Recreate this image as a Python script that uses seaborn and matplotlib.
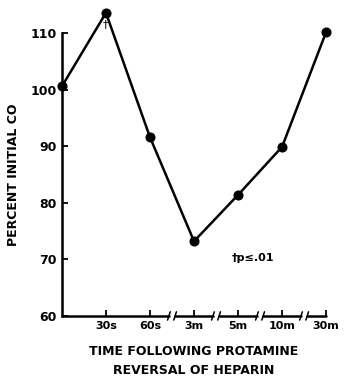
import pandas as pd
import matplotlib.pyplot as plt
import seaborn as sns

# datos
time_labels = ["0", "30s", "60s", "3m", "5m", "10m", "30m"]
percent_co = [100.6, 113.6, 91.6, 73.2, 81.4, 89.9, 110.2]
y_ticks = [60, 70, 80, 90, 100, 110]

df = pd.DataFrame({"pos": range(len(time_labels)), "co": percent_co})

sns.set_style("ticks")
plt.rcParams["font.family"] = ["DejaVu Sans"]
plt.rcParams["text.color"] = "black"
plt.rcParams["axes.labelcolor"] = "black"

fig = plt.figure(figsize=(3.44, 3.77), dpi=100)
ax = fig.add_axes([0.180, 0.162, 0.768, 0.750])

sns.lineplot(x="pos", y="co", data=df, color="black", marker="o", markersize=6.5,
             markeredgecolor="black", linewidth=1.8, ax=ax)
for ln in ax.lines:
    ln.set_clip_on(False)

ax.set_xlim(0, 6)
ax.set_ylim(60, 110)
ax.set_yticks(y_ticks)
ax.set_yticklabels([str(v) for v in y_ticks], fontsize=9, fontweight="bold")
ax.set_xticks(range(1, 7))
ax.set_xticklabels(time_labels[1:], fontsize=8, fontweight="bold")
ax.tick_params(direction="in", length=4, width=1.3, colors="black")

sns.despine(ax=ax)
ax.spines["left"].set_linewidth(1.8)
ax.spines["left"].set_color("black")
ax.spines["bottom"].set_visible(False)

# eje x con cortes
breaks = [2.5, 3.5, 4.5, 5.5]
segs = [0] + breaks + [6]
gap = 0.07
for i in range(len(segs) - 1):
    a = segs[i] + (gap if i > 0 else 0)
    b = segs[i + 1] - (gap if i < len(segs) - 2 else 0)
    ax.plot([a, b], [60, 60], color="black", lw=1.8, clip_on=False)
for bx in breaks:
    for dx in (-gap, gap):
        ax.annotate("", xy=(bx + dx + 0.05, 61.2), xytext=(bx + dx - 0.05, 58.8),
                    arrowprops=dict(arrowstyle="-", lw=1.1, color="black"),
                    annotation_clip=False)

ax.text(1, 111.6, "†", ha="center", va="center", fontsize=8)
ax.text(4.35, 70.2, "†p≤.01", ha="center", va="center", fontsize=8, fontweight="bold")

ax.set_ylabel("PERCENT INITIAL CO", fontsize=9, fontweight="bold", labelpad=8)
ax.set_xlabel("TIME FOLLOWING PROTAMINE\nREVERSAL OF HEPARIN", fontsize=9,
              fontweight="bold", labelpad=10, linespacing=1.6)

fig.savefig("out.png", dpi=100, facecolor="white")
